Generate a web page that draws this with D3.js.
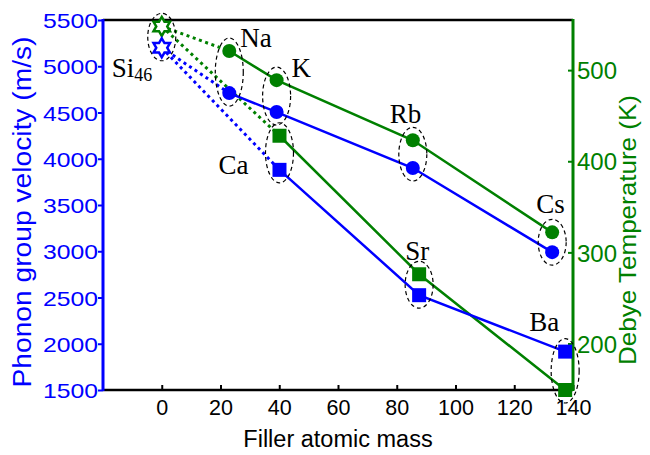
<!DOCTYPE html>
<html>
<head>
<meta charset="utf-8">
<script src="https://cdn.jsdelivr.net/npm/d3@7/dist/d3.min.js"></script>
<style>
  body { margin: 0; background: #fff; }
  svg text { font-family: "Liberation Sans", Arial, sans-serif; }
  .elem { font-family: "Liberation Serif", "Times New Roman", serif; font-size: 27px; fill: #000; }
</style>
</head>
<body>
<div id="chart"></div>
<script>
// empty Si46 cage
var emptyName = "Si46";
var emptyMass = 0;
var emptyVelocity = 5200;
var emptyDebye = 548;

// alkali fillers (circles)
var alkaliNames = ["Na", "K", "Rb", "Cs"];
var alkaliMass = [22.99, 39.10, 85.47, 132.91];
var alkaliVelocity = [4710, 4505, 3900, 2990];
var alkaliDebye = [521, 489, 423, 322];

// alkaline earth fillers (squares)
var earthNames = ["Ca", "Sr", "Ba"];
var earthMass = [40.08, 87.62, 137.33];
var earthVelocity = [3880, 2525, 1915];
var earthDebye = [428, 276, 149];

// axes
var xTicks = [0, 20, 40, 60, 80, 100, 120, 140];
var velTicks = [1500, 2000, 2500, 3000, 3500, 4000, 4500, 5000, 5500];
var debyeTicks = [200, 300, 400, 500];

function init() {
    var w = 650, h = 455;
    var left = 103, right = 573, top = 20, bottom = 390;
    var blue = "#0000ff", green = "#008000";

    var xScale = d3.scaleLinear().domain([-20, 140]).range([left, right]);
    var yVel = d3.scaleLinear().domain([1500, 5500]).range([bottom, top]);
    var yDeb = d3.scaleLinear().domain([149, 555]).range([bottom, top]);

    var svg = d3.select("#chart").append("svg")
        .attr("width", w)
        .attr("height", h);

    // bottom axis, ticks pointing inward
    var xAxis = svg.append("g")
        .attr("transform", "translate(0," + bottom + ")")
        .call(d3.axisBottom(xScale).tickValues(xTicks).tickSize(-5).tickFormat(d3.format("d")));
    xAxis.select(".domain").remove();
    xAxis.selectAll("line").attr("stroke", "#000").attr("stroke-width", 2);
    xAxis.selectAll("text")
        .attr("y", 25).attr("dy", 0)
        .attr("font-size", 21.5)
        .attr("fill", "#000");

    // left axis, ticks outward
    var yAxisL = svg.append("g")
        .attr("transform", "translate(" + left + ",0)")
        .call(d3.axisLeft(yVel).tickValues(velTicks).tickSize(5).tickFormat(d3.format("d")));
    yAxisL.select(".domain").remove();
    yAxisL.selectAll("line").attr("stroke", blue).attr("stroke-width", 2);
    yAxisL.selectAll("text")
        .attr("x", -5).attr("dy", "0.36em")
        .attr("font-size", 21)
        .attr("fill", blue)
        .attr("textLength", 55)
        .attr("lengthAdjust", "spacingAndGlyphs");

    // right axis, ticks inward
    var yAxisR = svg.append("g")
        .attr("transform", "translate(" + right + ",0)")
        .call(d3.axisRight(yDeb).tickValues(debyeTicks).tickSize(-5).tickFormat(d3.format("d")));
    yAxisR.select(".domain").remove();
    yAxisR.selectAll("line").attr("stroke", green).attr("stroke-width", 2);
    yAxisR.selectAll("text")
        .attr("x", 4).attr("dy", "0.36em")
        .attr("font-size", 24)
        .attr("fill", green);

    // frame
    svg.append("line").attr("x1", left).attr("x2", right).attr("y1", top).attr("y2", top)
        .attr("stroke", "#000").attr("stroke-width", 2.5);
    svg.append("line").attr("x1", left).attr("x2", right).attr("y1", bottom).attr("y2", bottom)
        .attr("stroke", "#000").attr("stroke-width", 2.5);
    svg.append("line").attr("x1", left).attr("x2", left).attr("y1", top - 1).attr("y2", bottom + 1)
        .attr("stroke", blue).attr("stroke-width", 3);
    svg.append("line").attr("x1", right).attr("x2", right).attr("y1", top - 1).attr("y2", bottom + 1)
        .attr("stroke", green).attr("stroke-width", 3);

    // axis titles
    svg.append("text")
        .attr("x", 338).attr("y", 447)
        .attr("text-anchor", "middle")
        .attr("font-size", 23.5)
        .text("Filler atomic mass");
    svg.append("text")
        .attr("transform", "translate(31," + 212 + ") rotate(-90)")
        .attr("text-anchor", "middle")
        .attr("font-size", 25)
        .attr("fill", blue)
        .attr("textLength", 351)
        .attr("lengthAdjust", "spacingAndGlyphs")
        .text("Phonon group velocity (m/s)");
    svg.append("text")
        .attr("transform", "translate(636," + 230 + ") rotate(-90)")
        .attr("text-anchor", "middle")
        .attr("font-size", 24)
        .attr("fill", green)
        .attr("textLength", 270)
        .attr("lengthAdjust", "spacingAndGlyphs")
        .text("Debye Temperature (K)");

    // build point rows from the arrays
    var alkali = alkaliNames.map(function(n, i) {
        return { name: n, mass: alkaliMass[i], vel: alkaliVelocity[i], deb: alkaliDebye[i] };
    });
    var earth = earthNames.map(function(n, i) {
        return { name: n, mass: earthMass[i], vel: earthVelocity[i], deb: earthDebye[i] };
    });
    var empty = { name: emptyName, mass: emptyMass, vel: emptyVelocity, deb: emptyDebye };

    var lineVel = d3.line().x(function(d) { return xScale(d.mass); }).y(function(d) { return yVel(d.vel); });
    var lineDeb = d3.line().x(function(d) { return xScale(d.mass); }).y(function(d) { return yDeb(d.deb); });

    // dotted links from the empty cage to the first filler of each family
    [alkali[0], earth[0]].forEach(function(d) {
        svg.append("path").datum([empty, d]).attr("d", lineDeb)
            .attr("fill", "none").attr("stroke", green).attr("stroke-width", 3)
            .attr("stroke-dasharray", "3,3.6");
        svg.append("path").datum([empty, d]).attr("d", lineVel)
            .attr("fill", "none").attr("stroke", blue).attr("stroke-width", 3)
            .attr("stroke-dasharray", "3,3.6");
    });

    // solid lines
    [alkali, earth].forEach(function(set) {
        svg.append("path").datum(set).attr("d", lineDeb)
            .attr("fill", "none").attr("stroke", green).attr("stroke-width", 2.5);
        svg.append("path").datum(set).attr("d", lineVel)
            .attr("fill", "none").attr("stroke", blue).attr("stroke-width", 2.5);
    });

    // markers
    svg.selectAll(".cDeb").data(alkali).enter().append("circle")
        .attr("cx", function(d) { return xScale(d.mass); })
        .attr("cy", function(d) { return yDeb(d.deb); })
        .attr("r", 7).attr("fill", green);
    svg.selectAll(".cVel").data(alkali).enter().append("circle")
        .attr("cx", function(d) { return xScale(d.mass); })
        .attr("cy", function(d) { return yVel(d.vel); })
        .attr("r", 7).attr("fill", blue);
    svg.selectAll(".sDeb").data(earth).enter().append("rect")
        .attr("x", function(d) { return xScale(d.mass) - 7; })
        .attr("y", function(d) { return yDeb(d.deb) - 7; })
        .attr("width", 14).attr("height", 14).attr("fill", green);
    svg.selectAll(".sVel").data(earth).enter().append("rect")
        .attr("x", function(d) { return xScale(d.mass) - 7; })
        .attr("y", function(d) { return yVel(d.vel) - 7; })
        .attr("width", 14).attr("height", 14).attr("fill", blue);

    // hexagram for the empty cage
    function hexagram(r) {
        var pts = [];
        for (var k = 0; k < 12; k++) {
            var a = -Math.PI / 2 + k * Math.PI / 6;
            var rr = k % 2 === 0 ? r : r / Math.sqrt(3);
            pts.push([rr * Math.cos(a), rr * Math.sin(a)]);
        }
        return "M" + pts.join("L") + "Z";
    }
    svg.append("path")
        .attr("d", hexagram(9.5))
        .attr("transform", "translate(" + xScale(empty.mass) + "," + yDeb(empty.deb) + ")")
        .attr("fill", "#fff").attr("stroke", green).attr("stroke-width", 2.5);
    svg.append("path")
        .attr("d", hexagram(9.5))
        .attr("transform", "translate(" + xScale(empty.mass) + "," + yVel(empty.vel) + ")")
        .attr("fill", "#fff").attr("stroke", blue).attr("stroke-width", 2.5);

    // dashed ellipses around each filler pair
    var all = [empty].concat(alkali, earth);
    svg.selectAll(".ring").data(all).enter().append("ellipse")
        .attr("cx", function(d) { return xScale(d.mass); })
        .attr("cy", function(d) { return (yVel(d.vel) + yDeb(d.deb)) / 2; })
        .attr("rx", 14)
        .attr("ry", function(d) { return Math.abs(yVel(d.vel) - yDeb(d.deb)) / 2 + 13; })
        .attr("fill", "none").attr("stroke", "#000")
        .attr("stroke-width", 1.2).attr("stroke-dasharray", "4,3");

    // element labels, offset from the upper marker
    var labelPos = {
        "Si46": [-50, 51], "Na": [11, -4], "K": [15, -3], "Ca": [-61, 38],
        "Rb": [-23, -17], "Sr": [-14, -14], "Cs": [-16, -19], "Ba": [-36, -21]
    };
    all.forEach(function(d) {
        var top = Math.min(yVel(d.vel), yDeb(d.deb));
        var t = svg.append("text").attr("class", "elem")
            .attr("x", xScale(d.mass) + labelPos[d.name][0])
            .attr("y", top + labelPos[d.name][1]);
        if (d.name === "Si46") {
            t.append("tspan").text("Si");
            t.append("tspan").attr("font-size", 18).attr("dy", 3.5).text("46");
        } else {
            t.text(d.name);
        }
    });
}

window.onload = init;
</script>
</body>
</html>
